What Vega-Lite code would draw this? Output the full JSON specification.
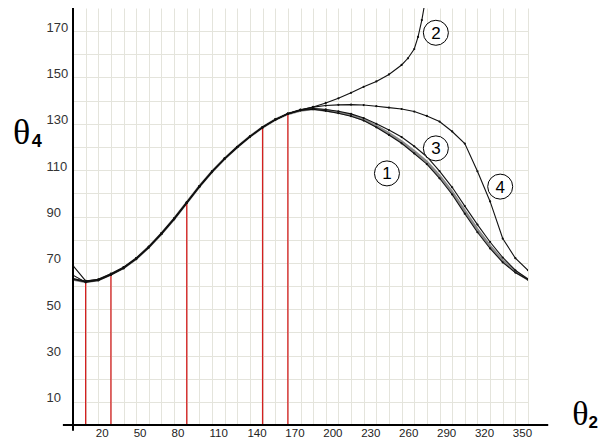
{
  "$schema": "https://vega.github.io/schema/vega-lite/v6.json",
  "width": 455,
  "height": 417,
  "autosize": {"type": "none"},
  "padding": {"left": 73, "top": 8, "right": 71, "bottom": 12},
  "background": "white",
  "config": {"view": {"stroke": null}},
  "datasets": {
    "curves": [
      {"c":"g","x":0,"y":62.8},{"c":"g","x":10,"y":61.8},{"c":"g","x":20,"y":62.6},{"c":"g","x":30,"y":65.0},{"c":"g","x":40,"y":67.8},{"c":"g","x":50,"y":71.8},{"c":"g","x":60,"y":76.8},{"c":"g","x":70,"y":82.6},{"c":"g","x":80,"y":89.0},{"c":"g","x":90,"y":96.0},{"c":"g","x":100,"y":103.0},{"c":"g","x":110,"y":109.4},{"c":"g","x":120,"y":115.0},{"c":"g","x":130,"y":120.0},{"c":"g","x":140,"y":124.5},{"c":"g","x":150,"y":128.5},{"c":"g","x":160,"y":131.8},{"c":"g","x":170,"y":134.3},{"c":"g","x":180,"y":135.8},{"c":"g","x":190,"y":136.4},{"c":"g","x":200,"y":135.8},{"c":"g","x":210,"y":134.9},{"c":"g","x":220,"y":133.7},{"c":"g","x":230,"y":131.8},{"c":"g","x":240,"y":129.0},{"c":"g","x":250,"y":125.9},{"c":"g","x":260,"y":122.4},{"c":"g","x":270,"y":118.2},{"c":"g","x":280,"y":113.6},{"c":"g","x":290,"y":107.5},{"c":"g","x":300,"y":100.6},{"c":"g","x":310,"y":92.4},{"c":"g","x":320,"y":84.4},{"c":"g","x":330,"y":77.2},{"c":"g","x":340,"y":71.0},{"c":"g","x":350,"y":66.2},{"c":"g","x":360,"y":62.8},

      {"c":"1","x":0,"y":62.8},{"c":"1","x":10,"y":61.8},{"c":"1","x":20,"y":62.6},{"c":"1","x":30,"y":65.0},{"c":"1","x":40,"y":67.8},{"c":"1","x":50,"y":71.8},{"c":"1","x":60,"y":76.8},{"c":"1","x":70,"y":82.6},{"c":"1","x":80,"y":89.0},{"c":"1","x":90,"y":96.0},{"c":"1","x":100,"y":103.0},{"c":"1","x":110,"y":109.4},{"c":"1","x":120,"y":115.0},{"c":"1","x":130,"y":120.0},{"c":"1","x":140,"y":124.5},{"c":"1","x":150,"y":128.5},{"c":"1","x":160,"y":131.8},{"c":"1","x":170,"y":134.3},{"c":"1","x":180,"y":135.8},{"c":"1","x":190,"y":136.3},{"c":"1","x":200,"y":135.6},{"c":"1","x":210,"y":134.6},{"c":"1","x":220,"y":133.3},{"c":"1","x":230,"y":131.4},{"c":"1","x":240,"y":128.5},{"c":"1","x":250,"y":125.2},{"c":"1","x":260,"y":121.6},{"c":"1","x":270,"y":117.2},{"c":"1","x":280,"y":112.6},{"c":"1","x":290,"y":106.5},{"c":"1","x":300,"y":99.5},{"c":"1","x":310,"y":91.2},{"c":"1","x":320,"y":83.2},{"c":"1","x":330,"y":76.2},{"c":"1","x":340,"y":70.2},{"c":"1","x":350,"y":65.8},{"c":"1","x":360,"y":62.7},

      {"c":"3","x":0,"y":63.2},{"c":"3","x":10,"y":62.0},{"c":"3","x":20,"y":62.9},{"c":"3","x":30,"y":65.3},{"c":"3","x":40,"y":68.1},{"c":"3","x":50,"y":72.0},{"c":"3","x":60,"y":77.0},{"c":"3","x":70,"y":82.8},{"c":"3","x":80,"y":89.2},{"c":"3","x":90,"y":96.1},{"c":"3","x":100,"y":103.1},{"c":"3","x":110,"y":109.5},{"c":"3","x":120,"y":115.1},{"c":"3","x":130,"y":120.1},{"c":"3","x":140,"y":124.6},{"c":"3","x":150,"y":128.6},{"c":"3","x":160,"y":131.9},{"c":"3","x":170,"y":134.4},{"c":"3","x":180,"y":135.9},{"c":"3","x":190,"y":136.6},{"c":"3","x":200,"y":136.2},{"c":"3","x":210,"y":135.4},{"c":"3","x":220,"y":134.3},{"c":"3","x":230,"y":132.5},{"c":"3","x":240,"y":130.0},{"c":"3","x":250,"y":127.3},{"c":"3","x":260,"y":124.3},{"c":"3","x":270,"y":120.3},{"c":"3","x":280,"y":115.8},{"c":"3","x":290,"y":109.6},{"c":"3","x":300,"y":102.6},{"c":"3","x":310,"y":94.5},{"c":"3","x":320,"y":86.5},{"c":"3","x":330,"y":79.0},{"c":"3","x":340,"y":72.3},{"c":"3","x":350,"y":66.8},{"c":"3","x":360,"y":63.0},

      {"c":"2","x":0,"y":64.7},{"c":"2","x":10,"y":61.6},{"c":"2","x":20,"y":62.4},{"c":"2","x":30,"y":64.8},{"c":"2","x":40,"y":67.6},{"c":"2","x":50,"y":71.6},{"c":"2","x":60,"y":76.6},{"c":"2","x":70,"y":82.4},{"c":"2","x":80,"y":88.8},{"c":"2","x":90,"y":95.8},{"c":"2","x":100,"y":102.8},{"c":"2","x":110,"y":109.2},{"c":"2","x":120,"y":114.9},{"c":"2","x":130,"y":119.9},{"c":"2","x":140,"y":124.4},{"c":"2","x":150,"y":128.4},{"c":"2","x":160,"y":131.7},{"c":"2","x":170,"y":134.3},{"c":"2","x":180,"y":136.0},{"c":"2","x":190,"y":137.3},{"c":"2","x":200,"y":139.0},{"c":"2","x":210,"y":141.0},{"c":"2","x":220,"y":143.4},{"c":"2","x":230,"y":146.0},{"c":"2","x":240,"y":148.3},{"c":"2","x":250,"y":151.3},{"c":"2","x":260,"y":155.4},{"c":"2","x":265,"y":158.3},{"c":"2","x":270,"y":162.3},{"c":"2","x":273,"y":167.5},{"c":"2","x":276,"y":174.8},{"c":"2","x":278,"y":181.0},

      {"c":"4","x":0,"y":68.8},{"c":"4","x":10,"y":62.2},{"c":"4","x":20,"y":62.7},{"c":"4","x":30,"y":65.1},{"c":"4","x":40,"y":67.9},{"c":"4","x":50,"y":71.9},{"c":"4","x":60,"y":76.9},{"c":"4","x":70,"y":82.7},{"c":"4","x":80,"y":89.1},{"c":"4","x":90,"y":96.0},{"c":"4","x":100,"y":103.0},{"c":"4","x":110,"y":109.4},{"c":"4","x":120,"y":115.0},{"c":"4","x":130,"y":120.0},{"c":"4","x":140,"y":124.5},{"c":"4","x":150,"y":128.5},{"c":"4","x":160,"y":131.8},{"c":"4","x":170,"y":134.4},{"c":"4","x":180,"y":136.1},{"c":"4","x":190,"y":137.2},{"c":"4","x":200,"y":137.9},{"c":"4","x":210,"y":138.2},{"c":"4","x":220,"y":138.3},{"c":"4","x":230,"y":138.1},{"c":"4","x":240,"y":137.6},{"c":"4","x":250,"y":137.0},{"c":"4","x":260,"y":136.4},{"c":"4","x":270,"y":135.3},{"c":"4","x":280,"y":133.4},{"c":"4","x":290,"y":131.0},{"c":"4","x":300,"y":126.7},{"c":"4","x":310,"y":121.5},{"c":"4","x":320,"y":109.5},{"c":"4","x":330,"y":96.5},{"c":"4","x":340,"y":80.5},{"c":"4","x":350,"y":72.0},{"c":"4","x":360,"y":66.8}
    ],
    "precision": [
      {"x":10,"y":61.8},{"x":30,"y":65.0},{"x":90,"y":96.0},{"x":150,"y":128.5},{"x":170,"y":134.3}
    ],
    "tags": [
      {"n":"1","x":248.4,"y":108.6},{"n":"2","x":287.1,"y":169.3},{"n":"3","x":287.1,"y":119.4},{"n":"4","x":338.0,"y":102.9}
    ],
    "one": [{}]
  },
  "layer": [
    {
      "data": {"name": "curves"},
      "transform": [{"filter": "datum.c == 'g'"}],
      "mark": {"type": "line", "color": "#8a8a8a", "strokeWidth": 2.6, "clip": true},
      "encoding": {
        "x": {"field": "x", "type": "quantitative", "scale": {"domain": [0, 360], "nice": false, "zero": false}, "axis": {"title": null, "domain": false, "ticks": false, "tickSize": 0, "grid": true, "gridColor": "#e4e4dc", "gridWidth": 1, "values": [0,10,20,30,40,50,60,70,80,90,100,110,120,130,140,150,160,170,180,190,200,210,220,230,240,250,260,270,280,290,300,310,320,330,340,350,360], "labelExpr": "(datum.value - 20) % 30 == 0 ? datum.label : ''", "labelOverlap": false, "labelFlush": false, "labelFont": "Liberation Sans", "labelFontSize": 11.5, "labelColor": "#222222", "labelAlign": "left", "labelOffset": -3, "labelPadding": 2, "labelBaseline": "top"}},
        "y": {"field": "y", "type": "quantitative", "scale": {"domain": [0, 180], "nice": false, "zero": false}, "axis": {"title": null, "domain": false, "ticks": false, "tickSize": 0, "grid": true, "gridColor": "#e4e4dc", "gridWidth": 1, "values": [0,10,20,30,40,50,60,70,80,90,100,110,120,130,140,150,160,170], "labelExpr": "datum.value % 20 == 10 ? datum.label : ''", "labelOverlap": false, "labelFlush": false, "labelFont": "Liberation Sans", "labelFontSize": 13, "labelColor": "#333333", "labelAlign": "left", "labelPadding": 27, "labelBaseline": "alphabetic"}}
      }
    },
    {
      "data": {"name": "precision"},
      "mark": {"type": "rule", "color": "#d42020", "strokeWidth": 1.3},
      "encoding": {
        "x": {"field": "x", "type": "quantitative", "axis": {"title": null, "domain": false, "ticks": false, "tickSize": 0, "grid": true, "gridColor": "#e4e4dc", "gridWidth": 1, "values": [0,10,20,30,40,50,60,70,80,90,100,110,120,130,140,150,160,170,180,190,200,210,220,230,240,250,260,270,280,290,300,310,320,330,340,350,360], "labelExpr": "(datum.value - 20) % 30 == 0 ? datum.label : ''", "labelOverlap": false, "labelFlush": false, "labelFont": "Liberation Sans", "labelFontSize": 11.5, "labelColor": "#222222", "labelAlign": "left", "labelOffset": -3, "labelPadding": 2, "labelBaseline": "top"}},
        "y": {"field": "y", "type": "quantitative", "axis": {"title": null, "domain": false, "ticks": false, "tickSize": 0, "grid": true, "gridColor": "#e4e4dc", "gridWidth": 1, "values": [0,10,20,30,40,50,60,70,80,90,100,110,120,130,140,150,160,170], "labelExpr": "datum.value % 20 == 10 ? datum.label : ''", "labelOverlap": false, "labelFlush": false, "labelFont": "Liberation Sans", "labelFontSize": 13, "labelColor": "#333333", "labelAlign": "left", "labelPadding": 27, "labelBaseline": "alphabetic"}},
        "y2": {"datum": 0}
      }
    },
    {
      "data": {"name": "curves"},
      "transform": [{"filter": "datum.c != 'g'"}],
      "mark": {"type": "line", "color": "#111111", "strokeWidth": 1.1, "clip": true, "point": {"filled": true, "size": 5, "color": "#111111"}},
      "encoding": {
        "x": {"field": "x", "type": "quantitative", "axis": {"title": null, "domain": false, "ticks": false, "tickSize": 0, "grid": true, "gridColor": "#e4e4dc", "gridWidth": 1, "values": [0,10,20,30,40,50,60,70,80,90,100,110,120,130,140,150,160,170,180,190,200,210,220,230,240,250,260,270,280,290,300,310,320,330,340,350,360], "labelExpr": "(datum.value - 20) % 30 == 0 ? datum.label : ''", "labelOverlap": false, "labelFlush": false, "labelFont": "Liberation Sans", "labelFontSize": 11.5, "labelColor": "#222222", "labelAlign": "left", "labelOffset": -3, "labelPadding": 2, "labelBaseline": "top"}},
        "y": {"field": "y", "type": "quantitative", "axis": {"title": null, "domain": false, "ticks": false, "tickSize": 0, "grid": true, "gridColor": "#e4e4dc", "gridWidth": 1, "values": [0,10,20,30,40,50,60,70,80,90,100,110,120,130,140,150,160,170], "labelExpr": "datum.value % 20 == 10 ? datum.label : ''", "labelOverlap": false, "labelFlush": false, "labelFont": "Liberation Sans", "labelFontSize": 13, "labelColor": "#333333", "labelAlign": "left", "labelPadding": 27, "labelBaseline": "alphabetic"}},
        "detail": {"field": "c"}
      }
    },
    {
      "data": {"name": "one"},
      "mark": {"type": "rule", "color": "#000000", "strokeWidth": 2, "clip": false},
      "encoding": {
        "x": {"datum": -8, "type": "quantitative", "axis": {"title": null, "domain": false, "ticks": false, "tickSize": 0, "grid": true, "gridColor": "#e4e4dc", "gridWidth": 1, "values": [0,10,20,30,40,50,60,70,80,90,100,110,120,130,140,150,160,170,180,190,200,210,220,230,240,250,260,270,280,290,300,310,320,330,340,350,360], "labelExpr": "(datum.value - 20) % 30 == 0 ? datum.label : ''", "labelOverlap": false, "labelFlush": false, "labelFont": "Liberation Sans", "labelFontSize": 11.5, "labelColor": "#222222", "labelAlign": "left", "labelOffset": -3, "labelPadding": 2, "labelBaseline": "top"}},
        "x2": {"datum": 376},
        "y": {"datum": 0, "type": "quantitative", "axis": {"title": null, "domain": false, "ticks": false, "tickSize": 0, "grid": true, "gridColor": "#e4e4dc", "gridWidth": 1, "values": [0,10,20,30,40,50,60,70,80,90,100,110,120,130,140,150,160,170], "labelExpr": "datum.value % 20 == 10 ? datum.label : ''", "labelOverlap": false, "labelFlush": false, "labelFont": "Liberation Sans", "labelFontSize": 13, "labelColor": "#333333", "labelAlign": "left", "labelPadding": 27, "labelBaseline": "alphabetic"}}
      }
    },
    {
      "data": {"name": "one"},
      "mark": {"type": "rule", "color": "#000000", "strokeWidth": 2, "clip": false},
      "encoding": {
        "x": {"datum": 0, "type": "quantitative", "axis": {"title": null, "domain": false, "ticks": false, "tickSize": 0, "grid": true, "gridColor": "#e4e4dc", "gridWidth": 1, "values": [0,10,20,30,40,50,60,70,80,90,100,110,120,130,140,150,160,170,180,190,200,210,220,230,240,250,260,270,280,290,300,310,320,330,340,350,360], "labelExpr": "(datum.value - 20) % 30 == 0 ? datum.label : ''", "labelOverlap": false, "labelFlush": false, "labelFont": "Liberation Sans", "labelFontSize": 11.5, "labelColor": "#222222", "labelAlign": "left", "labelOffset": -3, "labelPadding": 2, "labelBaseline": "top"}},
        "y": {"datum": -2.5, "type": "quantitative", "axis": {"title": null, "domain": false, "ticks": false, "tickSize": 0, "grid": true, "gridColor": "#e4e4dc", "gridWidth": 1, "values": [0,10,20,30,40,50,60,70,80,90,100,110,120,130,140,150,160,170], "labelExpr": "datum.value % 20 == 10 ? datum.label : ''", "labelOverlap": false, "labelFlush": false, "labelFont": "Liberation Sans", "labelFontSize": 13, "labelColor": "#333333", "labelAlign": "left", "labelPadding": 27, "labelBaseline": "alphabetic"}},
        "y2": {"datum": 180}
      }
    },
    {
      "data": {"name": "tags"},
      "mark": {"type": "point", "shape": "circle", "filled": false, "fill": "white", "fillOpacity": 1, "stroke": "#000000", "strokeWidth": 1, "size": 625, "opacity": 1},
      "encoding": {
        "x": {"field": "x", "type": "quantitative", "axis": {"title": null, "domain": false, "ticks": false, "tickSize": 0, "grid": true, "gridColor": "#e4e4dc", "gridWidth": 1, "values": [0,10,20,30,40,50,60,70,80,90,100,110,120,130,140,150,160,170,180,190,200,210,220,230,240,250,260,270,280,290,300,310,320,330,340,350,360], "labelExpr": "(datum.value - 20) % 30 == 0 ? datum.label : ''", "labelOverlap": false, "labelFlush": false, "labelFont": "Liberation Sans", "labelFontSize": 11.5, "labelColor": "#222222", "labelAlign": "left", "labelOffset": -3, "labelPadding": 2, "labelBaseline": "top"}},
        "y": {"field": "y", "type": "quantitative", "axis": {"title": null, "domain": false, "ticks": false, "tickSize": 0, "grid": true, "gridColor": "#e4e4dc", "gridWidth": 1, "values": [0,10,20,30,40,50,60,70,80,90,100,110,120,130,140,150,160,170], "labelExpr": "datum.value % 20 == 10 ? datum.label : ''", "labelOverlap": false, "labelFlush": false, "labelFont": "Liberation Sans", "labelFontSize": 13, "labelColor": "#333333", "labelAlign": "left", "labelPadding": 27, "labelBaseline": "alphabetic"}}
      }
    },
    {
      "data": {"name": "tags"},
      "mark": {"type": "text", "font": "Liberation Sans", "fontSize": 17, "color": "#000000", "align": "center", "baseline": "middle", "dy": 1},
      "encoding": {
        "x": {"field": "x", "type": "quantitative", "axis": {"title": null, "domain": false, "ticks": false, "tickSize": 0, "grid": true, "gridColor": "#e4e4dc", "gridWidth": 1, "values": [0,10,20,30,40,50,60,70,80,90,100,110,120,130,140,150,160,170,180,190,200,210,220,230,240,250,260,270,280,290,300,310,320,330,340,350,360], "labelExpr": "(datum.value - 20) % 30 == 0 ? datum.label : ''", "labelOverlap": false, "labelFlush": false, "labelFont": "Liberation Sans", "labelFontSize": 11.5, "labelColor": "#222222", "labelAlign": "left", "labelOffset": -3, "labelPadding": 2, "labelBaseline": "top"}},
        "y": {"field": "y", "type": "quantitative", "axis": {"title": null, "domain": false, "ticks": false, "tickSize": 0, "grid": true, "gridColor": "#e4e4dc", "gridWidth": 1, "values": [0,10,20,30,40,50,60,70,80,90,100,110,120,130,140,150,160,170], "labelExpr": "datum.value % 20 == 10 ? datum.label : ''", "labelOverlap": false, "labelFlush": false, "labelFont": "Liberation Sans", "labelFontSize": 13, "labelColor": "#333333", "labelAlign": "left", "labelPadding": 27, "labelBaseline": "alphabetic"}},
        "text": {"field": "n"}
      }
    },
    {
      "data": {"name": "one"},
      "mark": {"type": "text", "font": "Liberation Serif", "fontSize": 36, "color": "#000000", "align": "center", "baseline": "alphabetic"},
      "encoding": {
        "x": {"datum": -40.6, "type": "quantitative", "axis": {"title": null, "domain": false, "ticks": false, "tickSize": 0, "grid": true, "gridColor": "#e4e4dc", "gridWidth": 1, "values": [0,10,20,30,40,50,60,70,80,90,100,110,120,130,140,150,160,170,180,190,200,210,220,230,240,250,260,270,280,290,300,310,320,330,340,350,360], "labelExpr": "(datum.value - 20) % 30 == 0 ? datum.label : ''", "labelOverlap": false, "labelFlush": false, "labelFont": "Liberation Sans", "labelFontSize": 11.5, "labelColor": "#222222", "labelAlign": "left", "labelOffset": -3, "labelPadding": 2, "labelBaseline": "top"}},
        "y": {"datum": 121.5, "type": "quantitative", "axis": {"title": null, "domain": false, "ticks": false, "tickSize": 0, "grid": true, "gridColor": "#e4e4dc", "gridWidth": 1, "values": [0,10,20,30,40,50,60,70,80,90,100,110,120,130,140,150,160,170], "labelExpr": "datum.value % 20 == 10 ? datum.label : ''", "labelOverlap": false, "labelFlush": false, "labelFont": "Liberation Sans", "labelFontSize": 13, "labelColor": "#333333", "labelAlign": "left", "labelPadding": 27, "labelBaseline": "alphabetic"}},
        "text": {"value": "θ"}
      }
    },
    {
      "data": {"name": "one"},
      "mark": {"type": "text", "font": "Liberation Sans", "fontSize": 18, "fontWeight": "bold", "color": "#000000", "align": "left", "baseline": "alphabetic"},
      "encoding": {
        "x": {"datum": -32.7, "type": "quantitative", "axis": {"title": null, "domain": false, "ticks": false, "tickSize": 0, "grid": true, "gridColor": "#e4e4dc", "gridWidth": 1, "values": [0,10,20,30,40,50,60,70,80,90,100,110,120,130,140,150,160,170,180,190,200,210,220,230,240,250,260,270,280,290,300,310,320,330,340,350,360], "labelExpr": "(datum.value - 20) % 30 == 0 ? datum.label : ''", "labelOverlap": false, "labelFlush": false, "labelFont": "Liberation Sans", "labelFontSize": 11.5, "labelColor": "#222222", "labelAlign": "left", "labelOffset": -3, "labelPadding": 2, "labelBaseline": "top"}},
        "y": {"datum": 120.1, "type": "quantitative", "axis": {"title": null, "domain": false, "ticks": false, "tickSize": 0, "grid": true, "gridColor": "#e4e4dc", "gridWidth": 1, "values": [0,10,20,30,40,50,60,70,80,90,100,110,120,130,140,150,160,170], "labelExpr": "datum.value % 20 == 10 ? datum.label : ''", "labelOverlap": false, "labelFlush": false, "labelFont": "Liberation Sans", "labelFontSize": 13, "labelColor": "#333333", "labelAlign": "left", "labelPadding": 27, "labelBaseline": "alphabetic"}},
        "text": {"value": "4"}
      }
    },
    {
      "data": {"name": "one"},
      "mark": {"type": "text", "font": "Liberation Serif", "fontSize": 34, "color": "#000000", "align": "center", "baseline": "alphabetic"},
      "encoding": {
        "x": {"datum": 401.4, "type": "quantitative", "axis": {"title": null, "domain": false, "ticks": false, "tickSize": 0, "grid": true, "gridColor": "#e4e4dc", "gridWidth": 1, "values": [0,10,20,30,40,50,60,70,80,90,100,110,120,130,140,150,160,170,180,190,200,210,220,230,240,250,260,270,280,290,300,310,320,330,340,350,360], "labelExpr": "(datum.value - 20) % 30 == 0 ? datum.label : ''", "labelOverlap": false, "labelFlush": false, "labelFont": "Liberation Sans", "labelFontSize": 11.5, "labelColor": "#222222", "labelAlign": "left", "labelOffset": -3, "labelPadding": 2, "labelBaseline": "top"}},
        "y": {"datum": 0, "type": "quantitative", "axis": {"title": null, "domain": false, "ticks": false, "tickSize": 0, "grid": true, "gridColor": "#e4e4dc", "gridWidth": 1, "values": [0,10,20,30,40,50,60,70,80,90,100,110,120,130,140,150,160,170], "labelExpr": "datum.value % 20 == 10 ? datum.label : ''", "labelOverlap": false, "labelFlush": false, "labelFont": "Liberation Sans", "labelFontSize": 13, "labelColor": "#333333", "labelAlign": "left", "labelPadding": 27, "labelBaseline": "alphabetic"}},
        "text": {"value": "θ"}
      }
    },
    {
      "data": {"name": "one"},
      "mark": {"type": "text", "font": "Liberation Sans", "fontSize": 17, "fontWeight": "bold", "color": "#000000", "align": "left", "baseline": "alphabetic"},
      "encoding": {
        "x": {"datum": 407.8, "type": "quantitative", "axis": {"title": null, "domain": false, "ticks": false, "tickSize": 0, "grid": true, "gridColor": "#e4e4dc", "gridWidth": 1, "values": [0,10,20,30,40,50,60,70,80,90,100,110,120,130,140,150,160,170,180,190,200,210,220,230,240,250,260,270,280,290,300,310,320,330,340,350,360], "labelExpr": "(datum.value - 20) % 30 == 0 ? datum.label : ''", "labelOverlap": false, "labelFlush": false, "labelFont": "Liberation Sans", "labelFontSize": 11.5, "labelColor": "#222222", "labelAlign": "left", "labelOffset": -3, "labelPadding": 2, "labelBaseline": "top"}},
        "y": {"datum": -1.4, "type": "quantitative", "axis": {"title": null, "domain": false, "ticks": false, "tickSize": 0, "grid": true, "gridColor": "#e4e4dc", "gridWidth": 1, "values": [0,10,20,30,40,50,60,70,80,90,100,110,120,130,140,150,160,170], "labelExpr": "datum.value % 20 == 10 ? datum.label : ''", "labelOverlap": false, "labelFlush": false, "labelFont": "Liberation Sans", "labelFontSize": 13, "labelColor": "#333333", "labelAlign": "left", "labelPadding": 27, "labelBaseline": "alphabetic"}},
        "text": {"value": "2"}
      }
    }
  ]
}
